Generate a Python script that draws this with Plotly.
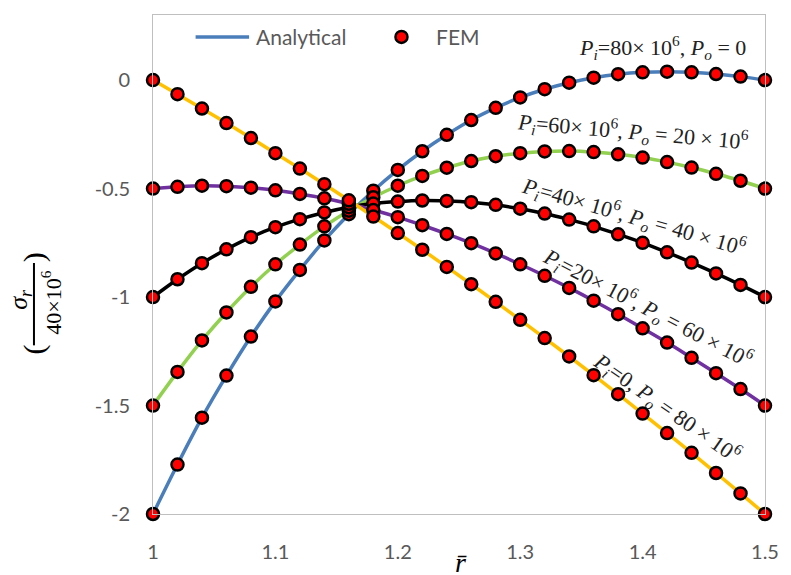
import plotly.graph_objects as go

# Normalised radius r/a
r_bar = [1.00, 1.02, 1.04, 1.06, 1.08, 1.10, 1.12, 1.14, 1.16, 1.18, 1.20, 1.22, 1.24,
         1.26, 1.28, 1.30, 1.32, 1.34, 1.36, 1.38, 1.40, 1.42, 1.44, 1.46, 1.48, 1.50]

# Normalised radial stress sigma_r / (40e6) for each pressure case
s_pi80_po0 = [-2.000, -1.772, -1.556, -1.362, -1.182, -1.020, -0.875, -0.739, -0.618,
              -0.510, -0.414, -0.328, -0.252, -0.184, -0.128, -0.080, -0.042, -0.012,
              0.011, 0.027, 0.036, 0.039, 0.036, 0.028, 0.016, 0.000]
s_pi60_po20 = [-1.500, -1.345, -1.200, -1.071, -0.953, -0.849, -0.758, -0.674, -0.602,
               -0.540, -0.487, -0.442, -0.404, -0.373, -0.351, -0.337, -0.329, -0.327,
               -0.332, -0.342, -0.357, -0.378, -0.403, -0.432, -0.464, -0.500]
s_pi40_po40 = [-1.000, -0.918, -0.844, -0.780, -0.724, -0.678, -0.641, -0.610, -0.586,
               -0.569, -0.560, -0.555, -0.557, -0.563, -0.575, -0.593, -0.615, -0.643,
               -0.674, -0.711, -0.750, -0.794, -0.841, -0.891, -0.944, -1.000]
s_pi20_po60 = [-0.500, -0.492, -0.487, -0.489, -0.496, -0.508, -0.525, -0.545, -0.570,
               -0.599, -0.632, -0.669, -0.709, -0.752, -0.799, -0.849, -0.902, -0.958,
               -1.017, -1.079, -1.144, -1.210, -1.280, -1.351, -1.424, -1.500]
s_pi0_po80 = [0.000, -0.065, -0.131, -0.198, -0.267, -0.337, -0.408, -0.480, -0.554,
              -0.629, -0.705, -0.782, -0.861, -0.941, -1.022, -1.105, -1.189, -1.274,
              -1.360, -1.448, -1.537, -1.627, -1.718, -1.811, -1.905, -2.000]

case_series = [s_pi80_po0, s_pi60_po20, s_pi40_po40, s_pi20_po60, s_pi0_po80]
case_colors = ["#4A7EBB", "#92D050", "#000000", "#7030A0", "#FFC000"]

case_labels = [
    "<i>P<sub>i</sub></i>=80× 10<sup>6</sup>, <i>P<sub>o</sub></i> = 0",
    "<i>P<sub>i</sub></i>=60× 10<sup>6</sup>, <i>P<sub>o</sub></i> = 20 × 10<sup>6</sup>",
    "<i>P<sub>i</sub></i>=40× 10<sup>6</sup>, <i>P<sub>o</sub></i> = 40 × 10<sup>6</sup>",
    "<i>P<sub>i</sub></i>=20× 10<sup>6</sup>, <i>P<sub>o</sub></i> = 60 × 10<sup>6</sup>",
    "<i>P<sub>i</sub></i>=0, <i>P<sub>o</sub></i> = 80 × 10<sup>6</sup>",
]
label_x = [1.416, 1.392, 1.393, 1.404, 1.420]
label_y = [0.151, -0.235, -0.630, -1.050, -1.507]
label_angle = [0, 5, 16, 27.5, 35]

x_ticks = [1.0, 1.1, 1.2, 1.3, 1.4, 1.5]
x_ticktext = ["1", "1.1", "1.2", "1.3", "1.4", "1.5"]
y_ticks = [0, -0.5, -1, -1.5, -2]
y_ticktext = ["0", "-0.5", "-1", "-1.5", "-2"]

sans = "Lato, 'Liberation Sans', sans-serif"
serif = "'Liberation Serif', 'DejaVu Serif', serif"
tick_font = dict(family=sans, size=20, color="#595959")
legend_font = dict(family=sans, size=21, color="#595959")

fig = go.Figure()

# Analytical curves
for ys, col in zip(case_series, case_colors):
    fig.add_trace(go.Scatter(
        x=r_bar, y=ys, mode="lines", name="Analytical",
        line=dict(color=col, width=3.5, shape="spline"),
        showlegend=False, hoverinfo="skip",
    ))

# FEM results
for ys in case_series:
    fig.add_trace(go.Scatter(
        x=r_bar, y=ys, mode="markers", name="FEM",
        marker=dict(color="#FF0000", size=12, line=dict(color="#000000", width=2.5)),
        showlegend=False, cliponaxis=False,
    ))

annotations = []
for txt, lx, ly, ang in zip(case_labels, label_x, label_y, label_angle):
    annotations.append(dict(
        x=lx, y=ly, xref="x", yref="y", text=txt, showarrow=False,
        textangle=ang, font=dict(family=serif, size=22, color="#222222"),
    ))

# Key across the top of the plot area
legend_y = 0.956
annotations += [
    dict(x=0.165, y=legend_y, xref="paper", yref="paper", showarrow=False,
         xanchor="left", yanchor="middle", text="Analytical", font=legend_font),
    dict(x=0.4595, y=legend_y, xref="paper", yref="paper", showarrow=False,
         xanchor="left", yanchor="middle", text="FEM", font=legend_font),
]

# y-axis title built as a rotated fraction
annotations += [
    dict(x=-0.2175, y=0.431, xref="paper", yref="paper", showarrow=False,
         xanchor="center", yanchor="middle",
         text="<i>σ<sub>r</sub></i>", textangle=-90,
         font=dict(family=serif, size=26, color="#000000")),
    dict(x=-0.1667, y=0.4235, xref="paper", yref="paper", showarrow=False,
         xanchor="center", yanchor="middle",
         text="40×10<sup>6</sup>", textangle=-90,
         font=dict(family=serif, size=22, color="#000000")),
    dict(x=-0.194, y=0.515, xref="paper", yref="paper", showarrow=False,
         xanchor="center", yanchor="middle",
         text=")", textangle=-90,
         font=dict(family=serif, size=30, color="#000000")),
    dict(x=-0.194, y=0.330, xref="paper", yref="paper", showarrow=False,
         xanchor="center", yanchor="middle",
         text="(", textangle=-90,
         font=dict(family=serif, size=30, color="#000000")),
    # x-axis title
    dict(x=1.252, y=-0.062, xref="x", yref="paper", showarrow=False,
         xanchor="center", yanchor="top", text="<i>r\u0304</i>",
         font=dict(family=serif, size=28, color="#000000")),
]

shapes = [
    # fraction bar of the y-axis title
    dict(type="line", xref="paper", yref="paper", x0=-0.1945, x1=-0.1945,
         y0=0.338, y1=0.503, line=dict(color="#000000", width=2)),
    # key: analytical line sample
    dict(type="line", xref="paper", yref="paper", x0=0.0696, x1=0.157,
         y0=legend_y, y1=legend_y, line=dict(color=case_colors[0], width=3.5)),
    # key: FEM marker sample
    dict(type="circle", xref="paper", yref="paper",
         xsizemode="pixel", ysizemode="pixel",
         xanchor=0.406, yanchor=legend_y, x0=-6, x1=6, y0=-6, y1=6,
         fillcolor="#FF0000", line=dict(color="#000000", width=2.5)),
]

fig.update_layout(
    width=791, height=575,
    margin=dict(l=153, r=20, t=15, b=57, pad=0),
    paper_bgcolor="white", plot_bgcolor="white",
    annotations=annotations, shapes=shapes,
    showlegend=False,
    xaxis=dict(range=[1.0, 1.5], tickvals=x_ticks, ticktext=x_ticktext,
               showline=True, linecolor="#BFBFBF", linewidth=1, mirror=True,
               showgrid=False, zeroline=False, ticks="", tickfont=tick_font,
               ticklabelstandoff=20),
    yaxis=dict(range=[-2.0, 0.3], tickvals=y_ticks, ticktext=y_ticktext,
               showline=True, linecolor="#BFBFBF", linewidth=1, mirror=True,
               showgrid=False, zeroline=False, ticks="", tickfont=tick_font,
               ticklabelstandoff=18),
)

fig.write_html("out.html")
